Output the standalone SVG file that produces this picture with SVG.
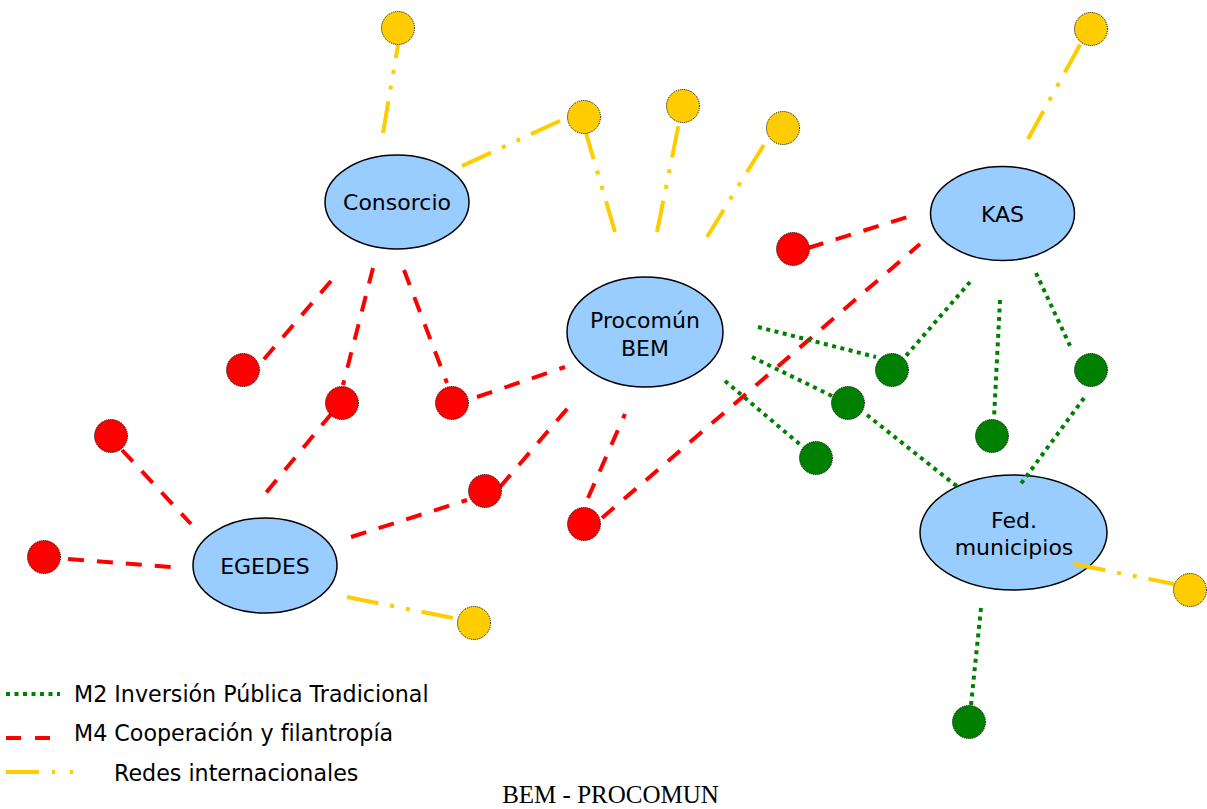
<svg xmlns="http://www.w3.org/2000/svg" width="1207" height="809" viewBox="0 0 1207 809">
<style>
.y{stroke:#FFCC00;stroke-width:4;fill:none;stroke-dasharray:32 12 4 12 4 12}
.r{stroke:#FF0000;stroke-width:4;fill:none;stroke-dasharray:16 13}
.g{stroke:#008000;stroke-width:4;fill:none;stroke-dasharray:4 4.5}
.node ellipse{fill:#99CCFF;stroke:#000;stroke-width:1.5}
.dot circle{stroke:#000;stroke-width:1;stroke-dasharray:1 1}
.cy{fill:#FFCC00}.cr{fill:#FF0000}.cg{fill:#008000}
text{font-family:"DejaVu Sans",Verdana,sans-serif;fill:#000;font-variant-ligatures:none}
.lbl{font-size:22px;text-anchor:middle}
.leg{font-size:22.2px}
</style>
<rect width="1207" height="809" fill="#fff"/>
<g id="consorcio" class="node"><ellipse cx="397" cy="202" rx="72" ry="47"/><text class="lbl" x="397" y="210">Consorcio</text></g>
<g id="procomun" class="node"><ellipse cx="645" cy="332" rx="78" ry="55"/><text class="lbl" x="645" y="328">Procomún</text><text class="lbl" x="645" y="356">BEM</text></g>
<g id="kas" class="node"><ellipse cx="1002.5" cy="213.5" rx="72" ry="47"/><text class="lbl" x="1002.5" y="222">KAS</text></g>
<g id="egedes" class="node"><ellipse cx="265" cy="565.5" rx="72" ry="47.5"/><text class="lbl" x="265" y="574">EGEDES</text></g>
<g id="fed" class="node"><ellipse cx="1013.5" cy="532.5" rx="93.5" ry="57.5"/><text class="lbl" x="1014" y="528">Fed.</text><text class="lbl" x="1014" y="555">municipios</text></g>
<g id="connectors">
<path class="y" d="M383,133 L398,45"/>
<path class="y" d="M462,166 L566,118"/>
<path class="y" d="M615,232 L586,133"/>
<path class="y" d="M657,232 L679,123"/>
<path class="y" d="M707,237 L765,143"/>
<path class="y" d="M1028,139 L1081,43"/>
<path class="y" d="M347,597 L458,619"/>
<path class="y" d="M1074,564 L1174,584"/>
<path class="r" d="M808,248 L917,214"/>
<path class="r" d="M331,281 L259,365"/>
<path class="r" d="M373,268 L343,385"/>
<path class="r" d="M404,270 L447,383"/>
<path class="r" d="M332,413 L265,494"/>
<path class="r" d="M477,397 L565,367"/>
<path class="r" d="M500,487 L573,402"/>
<path class="r" d="M351,537 L467,500"/>
<path class="r" d="M588,498 L625,414"/>
<path class="r" d="M602,518 L920,244"/>
<path class="r" d="M122,450 L191,524"/>
<path class="r" d="M68,559 L171,567"/>
<path class="g" d="M758,327 L876,357"/>
<path class="g" d="M970,282 L905,357"/>
<path class="g" d="M1000,300 L994,418"/>
<path class="g" d="M1036,273 L1072,350"/>
<path class="g" d="M752,357 L832,396"/>
<path class="g" d="M867,415 L959,488"/>
<path class="g" d="M725,381 L803,447"/>
<path class="g" d="M1084,398 L1020,485"/>
<path class="g" d="M981,608 L971,705"/>
</g>
<g id="y1" class="dot"><circle class="cy" cx="398" cy="28" r="16.5"/></g>
<g id="y2" class="dot"><circle class="cy" cx="584" cy="117" r="16.5"/></g>
<g id="y3" class="dot"><circle class="cy" cx="683" cy="106" r="16.5"/></g>
<g id="y4" class="dot"><circle class="cy" cx="783" cy="128" r="16.5"/></g>
<g id="y5" class="dot"><circle class="cy" cx="1091" cy="29" r="16.5"/></g>
<g id="y6" class="dot"><circle class="cy" cx="474" cy="623" r="16.5"/></g>
<g id="y7" class="dot"><circle class="cy" cx="1190" cy="590" r="16.5"/></g>
<g id="r1" class="dot"><circle class="cr" cx="793" cy="249" r="16.5"/></g>
<g id="r2" class="dot"><circle class="cr" cx="243" cy="370" r="16.5"/></g>
<g id="r3" class="dot"><circle class="cr" cx="342" cy="403" r="16.5"/></g>
<g id="r4" class="dot"><circle class="cr" cx="452" cy="403" r="16.5"/></g>
<g id="r5" class="dot"><circle class="cr" cx="111" cy="436" r="16.5"/></g>
<g id="r6" class="dot"><circle class="cr" cx="485" cy="491" r="16.5"/></g>
<g id="r7" class="dot"><circle class="cr" cx="584" cy="524" r="16.5"/></g>
<g id="r8" class="dot"><circle class="cr" cx="44" cy="557" r="16.5"/></g>
<g id="g1" class="dot"><circle class="cg" cx="892" cy="370" r="16.5"/></g>
<g id="g2" class="dot"><circle class="cg" cx="1091" cy="370" r="16.5"/></g>
<g id="g3" class="dot"><circle class="cg" cx="848" cy="403" r="16.5"/></g>
<g id="g4" class="dot"><circle class="cg" cx="992" cy="436" r="16.5"/></g>
<g id="g5" class="dot"><circle class="cg" cx="816" cy="458" r="16.5"/></g>
<g id="g6" class="dot"><circle class="cg" cx="969" cy="722" r="16.5"/></g>
<g id="legend">
<line class="g" x1="6" y1="694" x2="60" y2="694"/>
<text class="leg" x="74" y="702">M2 Inversión Pública Tradicional</text>
<line class="r" x1="6" y1="738" x2="51" y2="738" style="stroke-dasharray:15 14"/>
<text class="leg" x="74" y="741">M4 Cooperación y filantropía</text>
<line class="y" x1="6" y1="772" x2="73" y2="772" style="stroke-dasharray:33 13 3 15 3 13"/>
<text class="leg" x="114" y="781">Redes internacionales</text>
</g>
<text x="610.5" y="803" style="font-family:'Liberation Serif','Times New Roman',serif;font-size:25px;text-anchor:middle">BEM - PROCOMUN</text>
</svg>
